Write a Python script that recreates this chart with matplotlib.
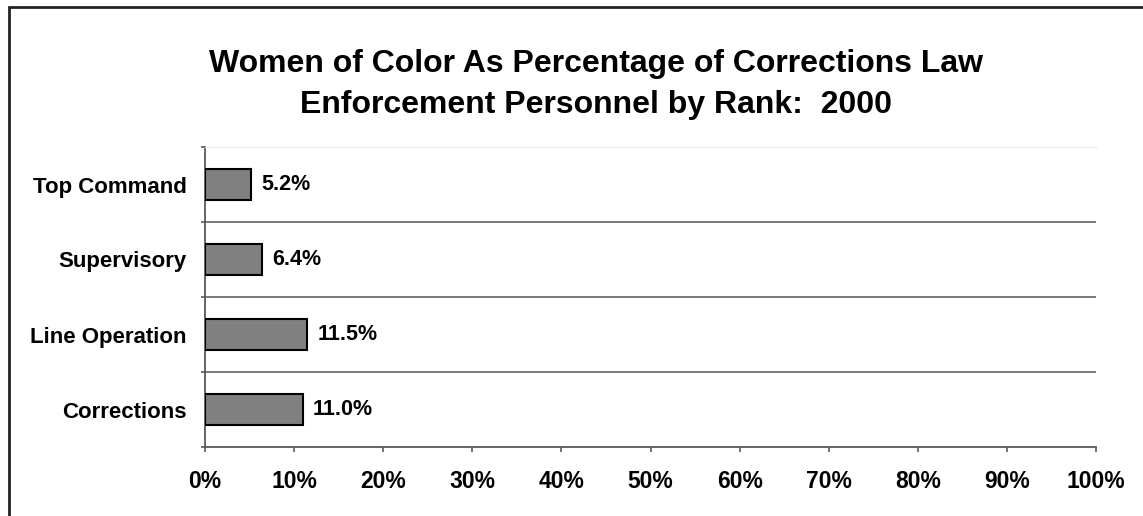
import numpy as np
import matplotlib.pyplot as plt
from matplotlib.patches import Rectangle
from matplotlib.ticker import FixedLocator

plt.rcParams['font.family'] = ['Liberation Sans', 'DejaVu Sans']
plt.rcParams['font.weight'] = 'bold'

# Ranks listed top to bottom, share held by women of color (%)
ranks = ['Top Command', 'Supervisory', 'Line Operation', 'Corrections']
shares = [5.2, 6.4, 11.5, 11.0]
x_ticks = [0, 10, 20, 30, 40, 50, 60, 70, 80, 90, 100]

fig = plt.figure(figsize=(11.43, 5.16), dpi=100)
ax = fig.add_axes([205 / 1143, 69 / 516, 891 / 1143, 300 / 516])

ypos = np.arange(len(ranks))
ax.barh(ypos, shares, height=0.41, color='#808080', edgecolor='black', linewidth=1.5, zorder=3)

for y, v in zip(ypos, shares):
    ax.text(v + 1.1, y, f'{v:.1f}%', va='center', ha='left', fontsize=15.5, fontweight='bold')

ax.set_xlim(0, 100)
ax.set_ylim(len(ranks) - 0.5, -0.5)

ax.set_xticks(x_ticks)
ax.set_xticklabels([f'{t}%' for t in x_ticks], fontsize=16.5, fontweight='bold')
ax.tick_params(axis='x', direction='out', length=3.5, width=1.2, color='#5a5a5a', pad=13)

ax.set_yticks(ypos)
ax.set_yticklabels(ranks, fontsize=16, fontweight='bold')
ax.tick_params(axis='y', which='major', length=0, pad=13)
ax.yaxis.set_minor_locator(FixedLocator(np.arange(-0.5, len(ranks), 1.0)))
ax.tick_params(axis='y', which='minor', direction='out', length=3, width=1.2, color='#5a5a5a')

# separator lines between the rank categories
for b in np.arange(0.5, len(ranks) - 0.5, 1.0):
    ax.axhline(b, color='#6e6e6e', linewidth=1.3, zorder=1)

ax.spines['right'].set_visible(False)
ax.spines['top'].set_color('#ececec')
ax.spines['top'].set_linewidth(1.0)
for s in ('left', 'bottom'):
    ax.spines[s].set_color('#5a5a5a')
    ax.spines[s].set_linewidth(1.3)

fig.text(596 / 1143, 1 - 49 / 516,
         'Women of Color As Percentage of Corrections Law\nEnforcement Personnel by Rank:  2000',
         ha='center', va='top', fontsize=23, fontweight='bold', linespacing=1.5)

# outer chart frame
fig.add_artist(Rectangle((8.5 / 1143, -0.1), 1.2, (516 - 6.5) / 516 + 0.1,
                         transform=fig.transFigure, fill=False,
                         edgecolor='#222222', linewidth=2, clip_on=False))

fig.savefig('out.png', dpi=100)
